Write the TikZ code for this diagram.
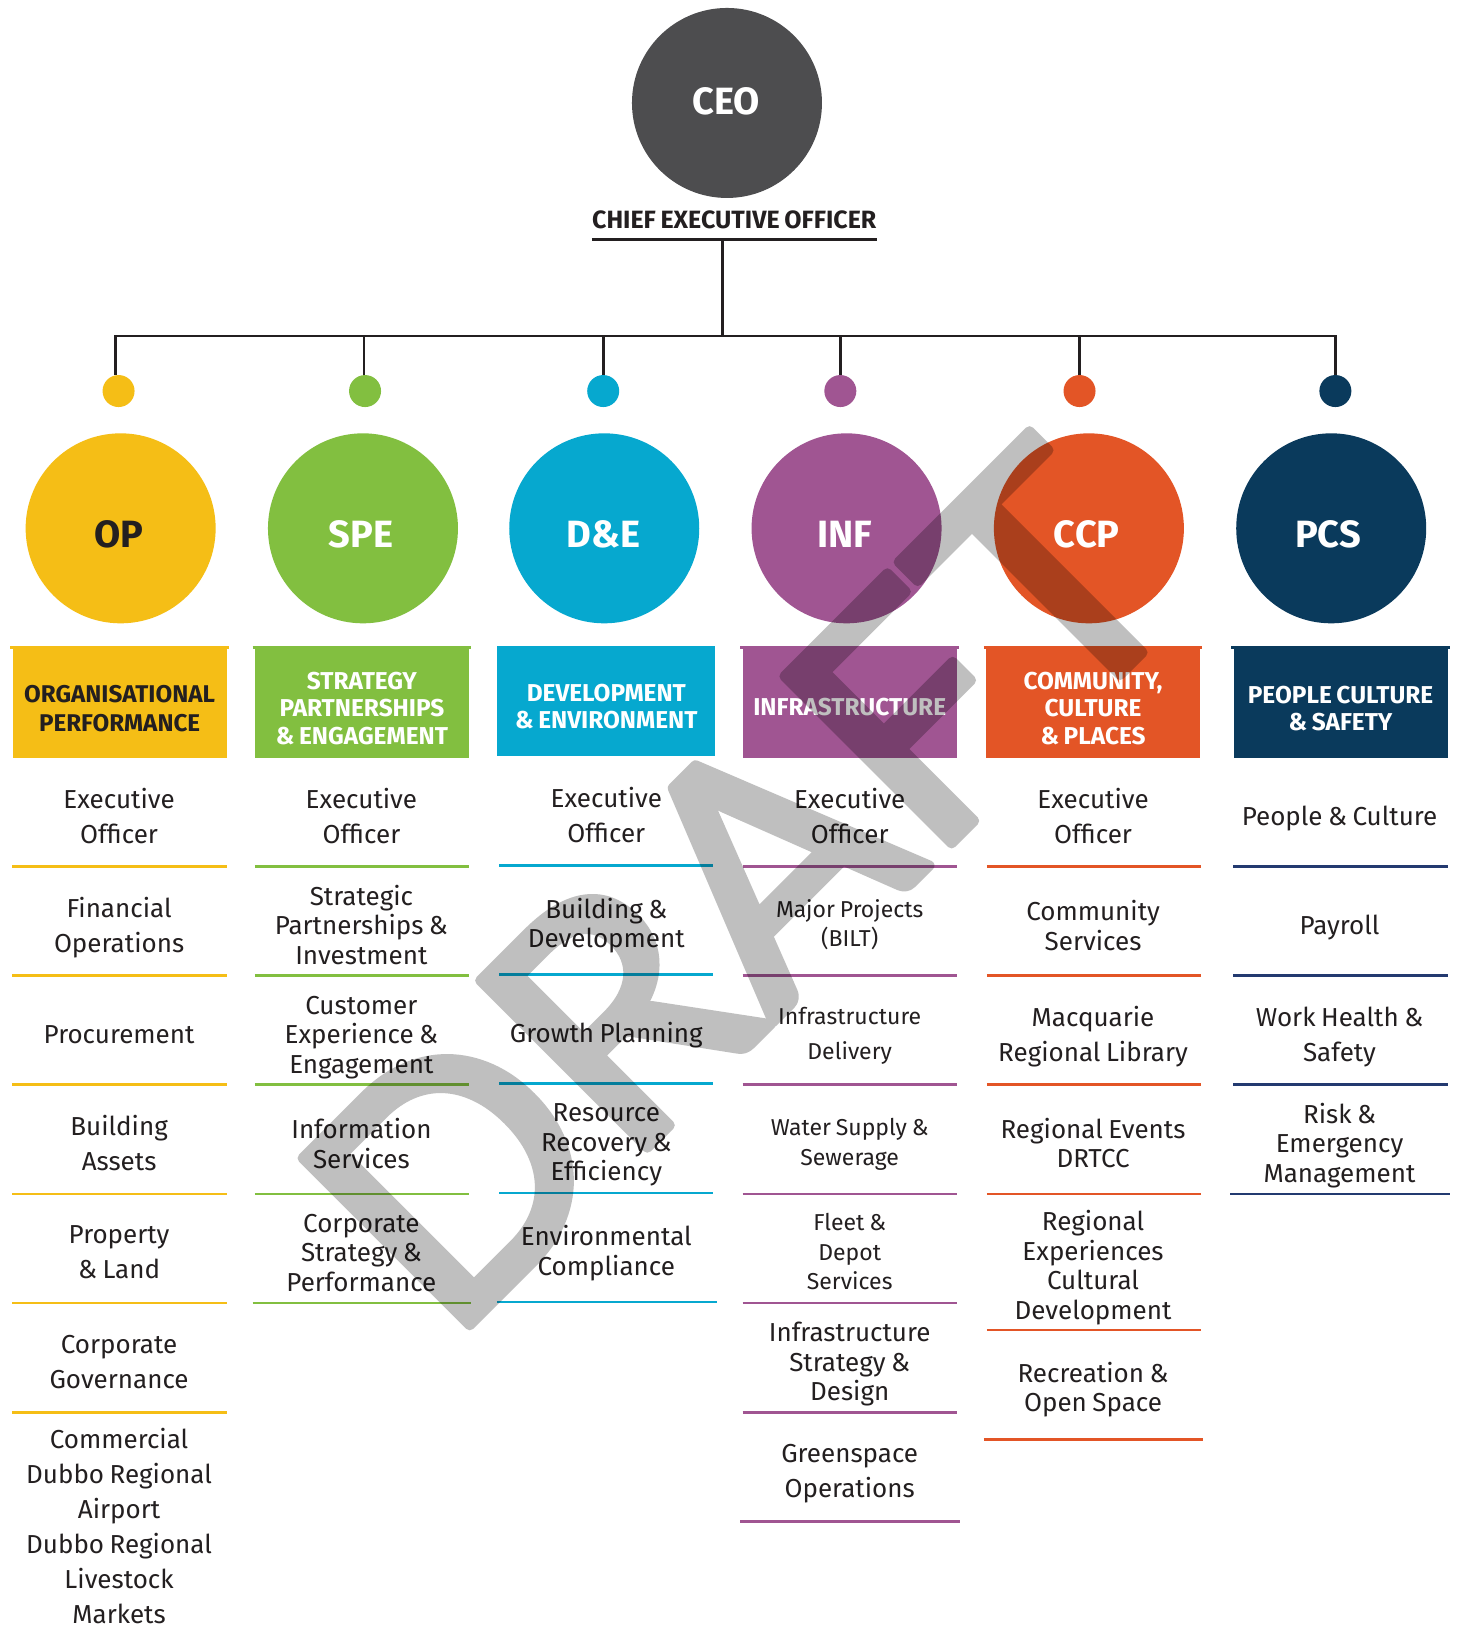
\documentclass[tikz,border=0pt]{standalone}
\usepackage{fontspec}
\setmainfont[WordSpace=0.8]{Fira Sans}
\newfontfamily\wmfont[RawFeature={embolden=3}]{Lato}
\usetikzlibrary{calc}
\definecolor{cop}{HTML}{F5BE16}
\definecolor{cspe}{HTML}{82BF40}
\definecolor{cde}{HTML}{06A8CF}
\definecolor{cinf}{HTML}{A05592}
\definecolor{cccp}{HTML}{E35526}
\definecolor{cpcs}{HTML}{0A3A5C}
\definecolor{cpcsl}{HTML}{233A70}
\definecolor{cceo}{HTML}{4D4D4F}
\definecolor{ink}{HTML}{231F20}
\definecolor{wm}{HTML}{BFBFBF}
\newcommand{\hup}{\rule{0pt}{28pt}}
\tikzset{
  big/.style={circle,fill=#1,minimum size=190pt,inner sep=0pt},
  dot/.style={circle,fill=#1,minimum size=32pt,inner sep=0pt},
  bigtxt/.style={font=\bfseries\fontsize{38}{38}\selectfont,text=#1,inner sep=0pt},
  hdr/.style={fill=#1,minimum width=214pt,minimum height=110pt,inner sep=0pt,align=center,text=white,
     font=\bfseries\fontsize{24.4}{27.5}\selectfont,
     execute at begin node={\rule{0pt}{26pt}}},
  hwide/.style={font=\bfseries\fontsize{24.2}{29.5}\selectfont},
  itm/.style={text=ink,inner sep=0pt,align=center,font=\fontsize{26}{35}\selectfont,yshift=-2pt,
     execute at begin node={\rule[-7pt]{0pt}{37pt}},execute at end node={\rule[-7pt]{0pt}{7pt}}},
  tight/.style={font=\fontsize{26}{29.5}\selectfont},
  small/.style={font=\fontsize{23}{29.5}\selectfont},
  smallw/.style={font=\fontsize{23}{34.5}\selectfont},
  rulel/.style={draw=#1,line width=2.6pt},
  conn/.style={draw=ink,line width=2.6pt,line cap=rect},
}
\begin{document}
\begin{tikzpicture}[x=1.04pt,y=-1.04pt]
\useasboundingbox (0,0) rectangle (1402,1567.3);
\fill[white] (0,0) rectangle (1402,1567.3);

% CEO
\node[big=cceo] (ceo) at (699,99) {};
\node[bigtxt=white] (ceot) at (698,97) {CEO};
\node[text=ink,inner sep=0pt,font=\bfseries\fontsize{25}{25}\selectfont] (ceol) at (706,211) {CHIEF EXECUTIVE OFFICER};
\coordinate (ula) at (569,230);
\coordinate (ulb) at (843,230);
\draw[rulel=ink,line width=3pt] (ula) -- (ulb);

% dots
\foreach \n/\x/\c in {1/114/cop,2/351/cspe,3/580/cde,4/808/cinf,5/1038/cccp,6/1284/cpcs}
  \node[dot=\c] (d\n) at (\x,376) {};

% connectors
\coordinate (trunk) at (694.5,230);
\coordinate (bus) at (694.5,323);
\coordinate (t1) at (111,323);
\coordinate (t2) at (350,323);
\coordinate (t3) at (580,323);
\coordinate (t4) at (808,323);
\coordinate (t5) at (1038,323);
\coordinate (t6) at (1284,323);
\draw[conn] (trunk) -- (bus);
\draw[conn] (t1) -- (t6);
\foreach \n in {1,...,6} \draw[conn,line cap=butt] (t\n) -- (t\n |- d\n.north);

% big circles
\foreach \n/\x/\c in {1/116/cop,2/349/cspe,3/581/cde,4/814/cinf,5/1047/cccp,6/1280/cpcs}
  \node[big=\c] (c\n) at (\x,508) {};
\node[bigtxt=ink] (c1t) at (114,514) {OP};
\node[bigtxt=white] (c2t) at (347,514) {SPE};
\node[bigtxt=white] (c3t) at (580,514) {D\&E};
\node[bigtxt=white] (c4t) at (812,514) {INF};
\node[bigtxt=white] (c5t) at (1045,514) {CCP};
\node[bigtxt=white] (c6t) at (1277,514) {PCS};

% headers
\node[hdr=cop,hwide,text=ink] (h1) at (115,676) {\hup ORGANISATIONAL\\PERFORMANCE};
\node[hdr=cspe] (h2) at (348,676) {\hup STRATEGY\\PARTNERSHIPS\\\&\ ENGAGEMENT};
\node[hdr=cde,minimum width=218pt] (h3) at (583,674) {\hup DEVELOPMENT\\\&\ ENVIRONMENT};
\node[hdr=cinf] (h4) at (817,676) {INFRASTRUCTURE};
\node[hdr=cccp] (h5) at (1051,676) {\hup COMMUNITY,\\CULTURE\\\&\ PLACES};
\node[hdr=cpcs] (h6) at (1289,676) {\hup PEOPLE CULTURE\\\&\ SAFETY};
\foreach \n/\c in {1/cop,2/cspe,4/cinf,5/cccp,6/cpcs}
  \draw[rulel=\c,line width=3pt] ([xshift=-2pt]h\n.north west) -- ([xshift=2pt]h\n.north east);

% rules
\foreach \y in {833,938,1043,1148,1253,1358} \draw[rulel=cop] (12,\y) -- (218,\y);
\foreach \y in {833,938,1043,1148} \draw[rulel=cspe] (245,\y) -- (451,\y);
\draw[rulel=cspe] (243,1253) -- (453,1253);
\foreach \y in {832,937,1042,1147} \draw[rulel=cde] (480,\y) -- (686,\y);
\draw[rulel=cde] (478,1252) -- (689,1252);
\foreach \y in {833,938,1043,1148,1253,1358} \draw[rulel=cinf] (714,\y) -- (920,\y);
\draw[rulel=cinf] (712,1463) -- (923,1463);
\foreach \y in {833,938,1043,1148,1279} \draw[rulel=cccp] (949,\y) -- (1155,\y);
\draw[rulel=cccp] (946,1384) -- (1157,1384);
\foreach \y in {833,938,1043} \draw[rulel=cpcsl] (1186,\y) -- (1392,\y);
\draw[rulel=cpcsl] (1183,1148) -- (1394,1148);

% column 1
\node[itm] (a1) at (114.5,785.5) {Executive\\Officer};
\node[itm] (a2) at (114.5,891) {Financial\\Operations};
\node[itm] (a3) at (114.5,990) {Procurement};
\node[itm] (a4) at (114.5,1100) {Building\\Assets};
\node[itm] (a5) at (114.5,1205) {Property\\\&\ Land};
\node[itm] (a6) at (114.5,1311) {Corporate\\Governance};
\node[itm] (a7) at (114.5,1469) {Commercial\\Dubbo Regional\\Airport\\Dubbo Regional\\Livestock\\Markets};
% column 2
\node[itm] (b1) at (347.5,785.5) {Executive\\Officer};
\node[itm,tight] (b2) at (347.5,890.5) {Strategic\\Partnerships \&\\Investment};
\node[itm,tight] (b3) at (347.5,996.5) {Customer\\Experience \&\\Engagement};
\node[itm,tight] (b4) at (347.5,1101) {Information\\Services};
\node[itm,tight] (b5) at (347.5,1206) {Corporate\\Strategy \&\\Performance};
% column 3
\node[itm] (e1) at (583,784.5) {Executive\\Officer};
\node[itm,tight] (e2) at (583,889) {Building \&\\Development};
\node[itm] (e3) at (583,989) {Growth Planning};
\node[itm,tight] (e4) at (583,1100) {Resource\\Recovery \&\\Efficiency};
\node[itm,tight] (e5) at (583,1203.5) {Environmental\\Compliance};
% column 4
\node[itm] (f1) at (817,785.5) {Executive\\Officer};
\node[itm,small] (f2) at (817,889) {Major Projects\\(BILT)};
\node[itm,smallw] (f3) at (817,995) {Infrastructure\\Delivery};
\node[itm,small] (f4) at (817,1099.5) {Water Supply \&\\Sewerage};
\node[itm,small] (f5) at (817,1205) {Fleet \&\\Depot\\Services};
\node[itm,tight] (f6) at (817,1310.5) {Infrastructure\\Strategy \&\\Design};
\node[itm] (f7) at (817,1415.5) {Greenspace\\Operations};
% column 5
\node[itm] (g1) at (1051,785.5) {Executive\\Officer};
\node[itm,tight] (g2) at (1051,891) {Community\\Services};
\node[itm] (g3) at (1051,995.5) {Macquarie\\Regional Library};
\node[itm,tight] (g4) at (1051,1100.5) {Regional Events\\DRTCC};
\node[itm,tight] (g5) at (1051,1217.5) {Regional\\Experiences\\Cultural\\Development};
\node[itm,tight] (g6) at (1051,1335) {Recreation \&\\Open Space};
% column 6
\node[itm] (k1) at (1288,781) {People \&\ Culture};
\node[itm] (k2) at (1288,886) {Payroll};
\node[itm] (k3) at (1288,995.5) {Work Health \&\\Safety};
\node[itm,tight] (k4) at (1288,1100) {Risk \&\\Emergency\\Management};

% watermark
\begin{scope}[blend mode=multiply]
\begin{scope}[transparency group]
\pgfsetblendmode{normal}
\pgfsetroundjoin
\node[rotate=45,anchor=base west,inner sep=0pt,text=wm,font=\wmfont\fontsize{330}{330}\selectfont] (wmk) at (431,1295) {DRAFT};
\end{scope}
\end{scope}
\end{tikzpicture}
\end{document}
